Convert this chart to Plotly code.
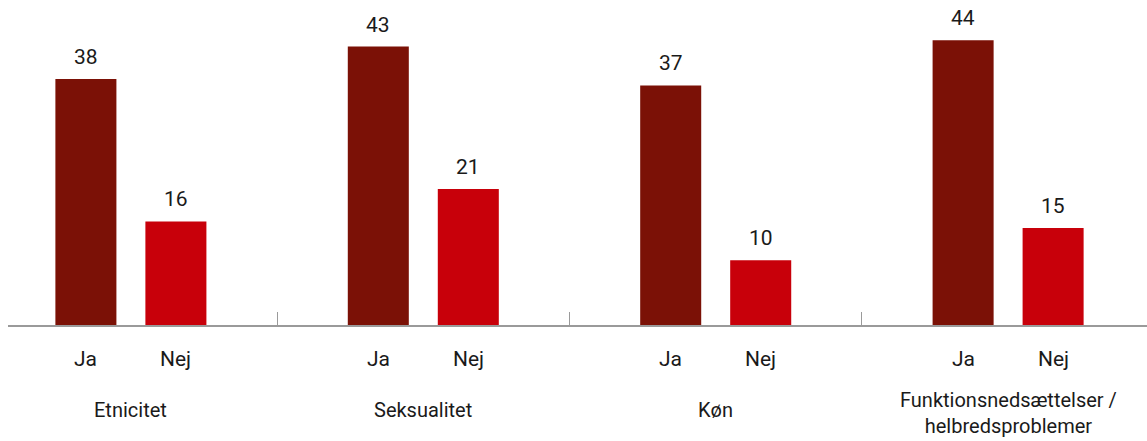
import plotly.graph_objects as go

# Andel (%) opdelt på gruppe og svar
groups = ["Etnicitet", "Seksualitet", "Køn", "Funktionsnedsættelser /<br>helbredsproblemer"]
answers = ["Ja", "Nej"]
ja_values = [38, 43, 37, 44]
nej_values = [16, 21, 10, 15]

DARK_RED = "#7B1106"
RED = "#C8000A"
FONT = "Roboto"
TEXT_COLOR = "#1a1a1a"
FONT_SIZE = 21

fig = go.Figure()
fig.add_trace(go.Bar(name="Ja", x=groups, y=ja_values, marker_color=DARK_RED,
                     marker_line_width=0, hoverinfo="skip"))
fig.add_trace(go.Bar(name="Nej", x=groups, y=nej_values, marker_color=RED,
                     marker_line_width=0, hoverinfo="skip"))

# half the distance between the two bar centres in a group (px)
half_slot = 45
label_font = dict(size=FONT_SIZE, color=TEXT_COLOR, family=FONT)
group_font = dict(size=20, color=TEXT_COLOR, family=FONT)

annotations = []
for g, ja, nej in zip(groups, ja_values, nej_values):
    for val, shift, ans in ((ja, -half_slot, answers[0]), (nej, half_slot, answers[1])):
        # value above bar
        annotations.append(dict(x=g, y=val, xref="x", yref="y", text=str(val),
                                showarrow=False, xshift=shift, yshift=8,
                                yanchor="bottom", font=label_font))
        # answer label below axis
        annotations.append(dict(x=g, y=0, xref="x", yref="paper", text=ans,
                                showarrow=False, xshift=shift, yshift=-20,
                                yanchor="top", font=label_font))
    # group name; wrapped names sit flush with the bottom edge
    if "<br>" in g:
        annotations.append(dict(x=g, y=0, xref="x", yref="paper", text=g,
                                showarrow=False, yshift=-115,
                                yanchor="bottom", font=group_font))
    else:
        annotations.append(dict(x=g, y=0, xref="x", yref="paper", text=g,
                                showarrow=False, yshift=-71,
                                yanchor="top", font=group_font))

fig.update_layout(
    width=1147, height=441,
    margin=dict(l=8, r=0, t=0, b=116, autoexpand=False),
    paper_bgcolor="white", plot_bgcolor="white",
    barmode="group", bargap=0.3844, bargroupgap=0.322,
    showlegend=False,
    font=dict(family=FONT, size=FONT_SIZE, color=TEXT_COLOR),
    annotations=annotations,
    xaxis=dict(
        type="category", range=[-0.4203, 3.475], automargin=False,
        showline=True, linecolor="#9a9a9a", linewidth=2,
        ticks="inside", tickson="boundaries", ticklen=13, tickcolor="#9a9a9a", tickwidth=1,
        showticklabels=False,
        showgrid=False, zeroline=False, fixedrange=True,
    ),
    yaxis=dict(range=[0, 50.2], visible=False, automargin=False,
               showgrid=False, zeroline=False, fixedrange=True),
)

fig.write_html("out.html")
